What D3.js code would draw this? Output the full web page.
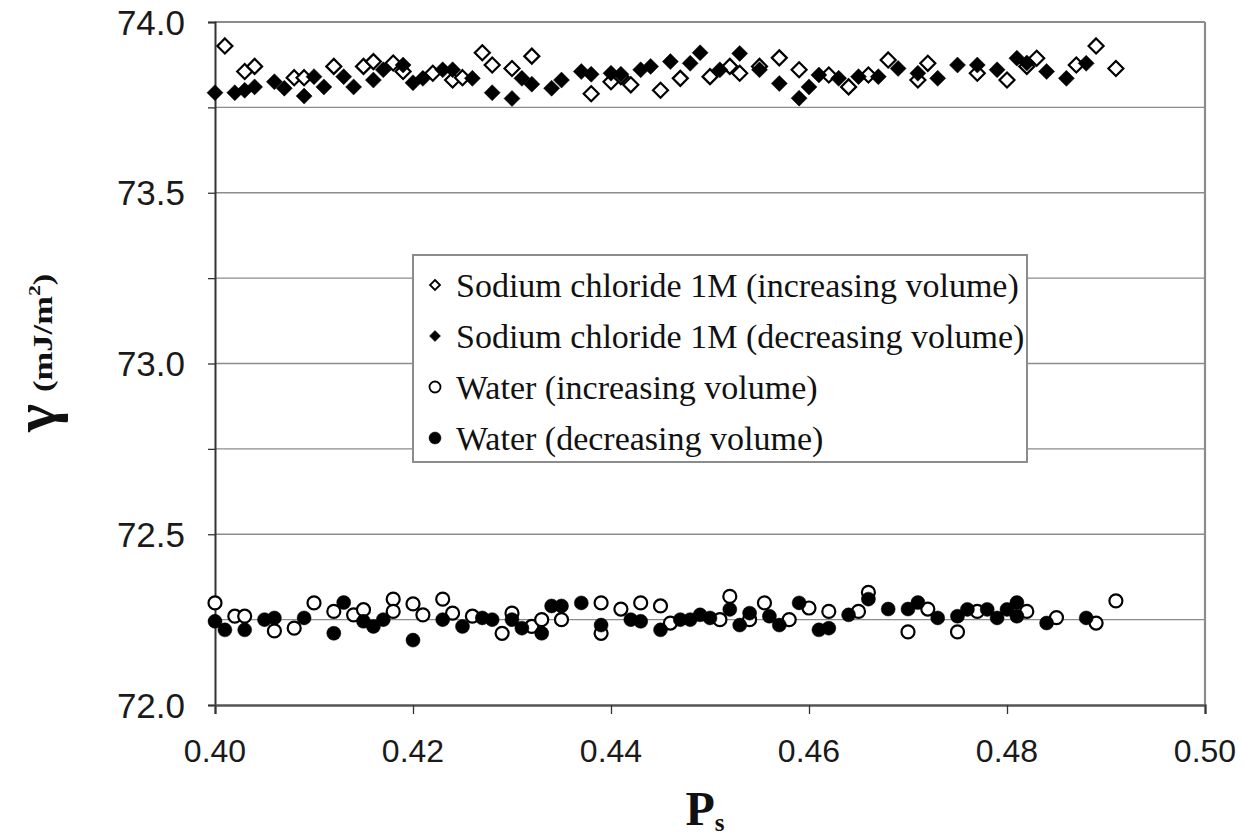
<!DOCTYPE html>
<html>
<head>
<meta charset="utf-8">
<script src="https://cdn.jsdelivr.net/npm/d3@7"></script>
<style>
  html, body { margin: 0; padding: 0; background: #fff; }
  svg { display: block; }
</style>
</head>
<body>
<svg id="chart" width="1245" height="838"></svg>
<script>
// Surface tension vs. packing fraction, four measurement series
const xTicks = [0.40, 0.42, 0.44, 0.46, 0.48, 0.50];
const yTicks = [72.0, 72.5, 73.0, 73.5, 74.0];
const yGrid = [72.25, 72.5, 72.75, 73.0, 73.25, 73.5, 73.75, 74.0];

const legendLabels = [
  "Sodium chloride 1M (increasing volume)",
  "Sodium chloride 1M (decreasing volume)",
  "Water (increasing volume)",
  "Water (decreasing volume)"
];

// Sodium chloride 1M, increasing volume: [Ps, gamma]
const naclInc = [
  [0.401, 73.93], [0.403, 73.855], [0.404, 73.87], [0.408, 73.837], [0.409, 73.837],
  [0.412, 73.87], [0.415, 73.87], [0.416, 73.884], [0.418, 73.88], [0.419, 73.855],
  [0.422, 73.85], [0.424, 73.83], [0.425, 73.837], [0.427, 73.91], [0.428, 73.874],
  [0.430, 73.864], [0.432, 73.90], [0.438, 73.79], [0.440, 73.825], [0.441, 73.84],
  [0.442, 73.816], [0.445, 73.80], [0.447, 73.835], [0.450, 73.84], [0.452, 73.87],
  [0.453, 73.85], [0.455, 73.87], [0.457, 73.895], [0.459, 73.86], [0.462, 73.845],
  [0.464, 73.81], [0.466, 73.845], [0.468, 73.889], [0.471, 73.83], [0.472, 73.879],
  [0.477, 73.85], [0.480, 73.83], [0.482, 73.87], [0.483, 73.894], [0.487, 73.874],
  [0.489, 73.93], [0.491, 73.864]
];

// Sodium chloride 1M, decreasing volume
const naclDec = [
  [0.400, 73.793], [0.402, 73.793], [0.403, 73.80], [0.404, 73.81], [0.406, 73.825],
  [0.407, 73.806], [0.409, 73.783], [0.410, 73.84], [0.411, 73.81], [0.413, 73.84],
  [0.414, 73.81], [0.416, 73.83], [0.417, 73.86], [0.419, 73.874], [0.420, 73.822],
  [0.421, 73.835], [0.423, 73.86], [0.424, 73.86], [0.426, 73.835], [0.428, 73.793],
  [0.430, 73.776], [0.431, 73.835], [0.432, 73.818], [0.434, 73.806], [0.435, 73.83],
  [0.437, 73.855], [0.438, 73.847], [0.440, 73.85], [0.441, 73.847], [0.443, 73.86],
  [0.444, 73.87], [0.446, 73.884], [0.448, 73.879], [0.449, 73.91], [0.451, 73.86],
  [0.453, 73.908], [0.455, 73.86], [0.457, 73.82], [0.459, 73.777], [0.460, 73.81],
  [0.461, 73.845], [0.463, 73.835], [0.465, 73.84], [0.467, 73.84], [0.469, 73.864],
  [0.471, 73.85], [0.473, 73.835], [0.475, 73.874], [0.477, 73.874], [0.479, 73.86],
  [0.481, 73.894], [0.482, 73.88], [0.484, 73.855], [0.486, 73.835], [0.488, 73.879]
];

// Water, increasing volume
const waterInc = [
  [0.400, 72.299], [0.402, 72.26], [0.403, 72.26], [0.406, 72.217], [0.408, 72.225],
  [0.410, 72.299], [0.412, 72.274], [0.414, 72.264], [0.415, 72.279], [0.418, 72.31],
  [0.418, 72.274], [0.420, 72.296], [0.421, 72.264], [0.423, 72.31], [0.424, 72.269],
  [0.426, 72.26], [0.429, 72.21], [0.430, 72.269], [0.432, 72.23], [0.433, 72.25],
  [0.435, 72.25], [0.439, 72.299], [0.439, 72.21], [0.441, 72.281], [0.443, 72.299],
  [0.445, 72.29], [0.446, 72.24], [0.451, 72.25], [0.452, 72.318], [0.454, 72.25],
  [0.4555, 72.299], [0.458, 72.25], [0.460, 72.284], [0.462, 72.274], [0.465, 72.274],
  [0.466, 72.33], [0.470, 72.214], [0.472, 72.281], [0.475, 72.214], [0.477, 72.274],
  [0.482, 72.274], [0.485, 72.256], [0.489, 72.24], [0.491, 72.305]
];

// Water, decreasing volume
const waterDec = [
  [0.400, 72.245], [0.401, 72.22], [0.403, 72.22], [0.405, 72.25], [0.406, 72.255],
  [0.409, 72.255], [0.412, 72.21], [0.413, 72.30], [0.415, 72.245], [0.416, 72.23],
  [0.417, 72.25], [0.420, 72.19], [0.423, 72.25], [0.425, 72.23], [0.427, 72.255],
  [0.428, 72.25], [0.430, 72.25], [0.431, 72.225], [0.433, 72.21], [0.434, 72.29],
  [0.435, 72.29], [0.437, 72.299], [0.439, 72.234], [0.442, 72.25], [0.443, 72.245],
  [0.445, 72.22], [0.447, 72.25], [0.448, 72.25], [0.449, 72.264], [0.450, 72.255],
  [0.452, 72.28], [0.453, 72.234], [0.454, 72.269], [0.456, 72.26], [0.457, 72.234],
  [0.459, 72.299], [0.461, 72.22], [0.462, 72.225], [0.464, 72.264], [0.466, 72.31],
  [0.468, 72.281], [0.470, 72.281], [0.471, 72.30], [0.473, 72.255], [0.475, 72.26],
  [0.476, 72.28], [0.478, 72.28], [0.479, 72.255], [0.480, 72.28], [0.481, 72.30],
  [0.481, 72.26], [0.484, 72.24], [0.488, 72.255]
];

const svg = d3.select("#chart");
const plot = { left: 215, right: 1205, top: 22, bottom: 705 };

const x = d3.scaleLinear().domain([0.40, 0.50]).range([plot.left, plot.right]);
const y = d3.scaleLinear().domain([72.0, 74.0]).range([plot.bottom, plot.top]);

// horizontal gridlines
svg.append("g").selectAll("line").data(yGrid).join("line")
  .attr("x1", plot.left).attr("x2", plot.right)
  .attr("y1", d => y(d)).attr("y2", d => y(d))
  .attr("stroke", "#8c8c8c").attr("stroke-width", d => d === 74.0 ? 2.2 : 1.4);

// right frame edge
svg.append("line")
  .attr("x1", plot.right).attr("x2", plot.right)
  .attr("y1", plot.top).attr("y2", plot.bottom)
  .attr("stroke", "#8c8c8c").attr("stroke-width", 2.2);

// y axis
const yAxis = svg.append("g")
  .attr("transform", `translate(${plot.left},0)`)
  .call(d3.axisLeft(y).tickValues(d3.range(72.0, 74.01, 0.25)).tickSize(7).tickFormat(""));
yAxis.select(".domain").attr("stroke", "#333").attr("stroke-width", 2);
yAxis.selectAll(".tick line").attr("stroke", "#333").attr("stroke-width", 1.3);

svg.append("g").selectAll("text").data(yTicks).join("text")
  .attr("x", 185).attr("y", d => y(d))
  .attr("text-anchor", "end").attr("dominant-baseline", "central")
  .attr("font-family", "Liberation Sans, Arial, sans-serif")
  .attr("font-size", 35).attr("fill", "#1a1a1a")
  .text(d => d.toFixed(1));

// x axis
const xAxis = svg.append("g")
  .attr("transform", `translate(0,${plot.bottom})`)
  .call(d3.axisBottom(x).tickValues(xTicks).tickSize(9).tickFormat(""));
xAxis.select(".domain").attr("stroke", "#555").attr("stroke-width", 2.4);
xAxis.selectAll(".tick line").attr("stroke", "#333").attr("stroke-width", 1.3);

svg.append("g").selectAll("text").data(xTicks).join("text")
  .attr("x", d => x(d)).attr("y", 751)
  .attr("text-anchor", "middle").attr("dominant-baseline", "central")
  .attr("font-family", "Liberation Sans, Arial, sans-serif")
  .attr("font-size", 32).attr("fill", "#1a1a1a")
  .text(d => d.toFixed(2));

// axis titles
const xTitle = svg.append("text")
  .attr("x", 705).attr("y", 825)
  .attr("text-anchor", "middle")
  .attr("font-family", "Liberation Serif, Times New Roman, serif")
  .attr("font-weight", "bold").attr("fill", "#111");
xTitle.append("tspan").attr("font-size", 48).text("P");
xTitle.append("tspan").attr("font-size", 25).attr("dy", 6).text("s");

// γ symbol and units, rotated along the left edge
svg.append("text")
  .attr("transform", "translate(55,432) rotate(-90)")
  .attr("font-family", "Liberation Serif, Times New Roman, serif")
  .attr("font-weight", "bold").attr("font-size", 60).attr("fill", "#111")
  .text("γ");

const units = svg.append("text")
  .attr("transform", "translate(52,392) rotate(-90) scale(1.28,1)")
  .attr("font-family", "Liberation Serif, Times New Roman, serif")
  .attr("font-weight", "bold").attr("fill", "#111");
units.append("tspan").attr("font-size", 27).text("(mJ/m");
units.append("tspan").attr("font-size", 17).attr("dy", -12).text("2");
units.append("tspan").attr("font-size", 27).attr("dy", 12).text(")");

// marker shapes
const diamond = r => `M0,${-r}L${r},0L0,${r}L${-r},0Z`;
const circle = r => d3.arc()({ innerRadius: 0, outerRadius: r, startAngle: 0, endAngle: 2 * Math.PI });

const series = [
  { data: naclInc, shape: diamond, r: 7.5, filled: false },
  { data: naclDec, shape: diamond, r: 8, filled: true },
  { data: waterInc, shape: circle, r: 6.5, filled: false },
  { data: waterDec, shape: circle, r: 7, filled: true }
];

const marks = svg.append("g");
series.forEach(s => {
  marks.append("g").selectAll("path").data(s.data).join("path")
    .attr("transform", d => `translate(${x(d[0])},${y(d[1])})`)
    .attr("d", s.shape(s.r))
    .attr("fill", s.filled ? "#000" : "#fff")
    .attr("stroke", "#000")
    .attr("stroke-width", s.filled ? 0.5 : 2.2);
});

// legend
const lg = svg.append("g");
lg.append("rect")
  .attr("x", 413).attr("y", 255).attr("width", 614).attr("height", 207)
  .attr("fill", "#fff").attr("stroke", "#8c8c8c").attr("stroke-width", 2);

const legendY = d3.scalePoint().domain(legendLabels).range([285, 438]);
const legendMarks = [
  { shape: diamond, r: 5, filled: false },
  { shape: diamond, r: 5.5, filled: true },
  { shape: circle, r: 5.5, filled: false },
  { shape: circle, r: 6, filled: true }
];
legendLabels.forEach((label, i) => {
  const m = legendMarks[i];
  lg.append("path")
    .attr("transform", `translate(435,${legendY(label)})`)
    .attr("d", m.shape(m.r))
    .attr("fill", m.filled ? "#000" : "#fff")
    .attr("stroke", "#000").attr("stroke-width", m.filled ? 0.5 : 1.8);
  lg.append("text")
    .attr("x", 456).attr("y", legendY(label))
    .attr("dominant-baseline", "central")
    .attr("font-family", "Liberation Serif, Times New Roman, serif")
    .attr("font-size", 34).attr("fill", "#111")
    .text(label);
});
</script>
</body>
</html>
